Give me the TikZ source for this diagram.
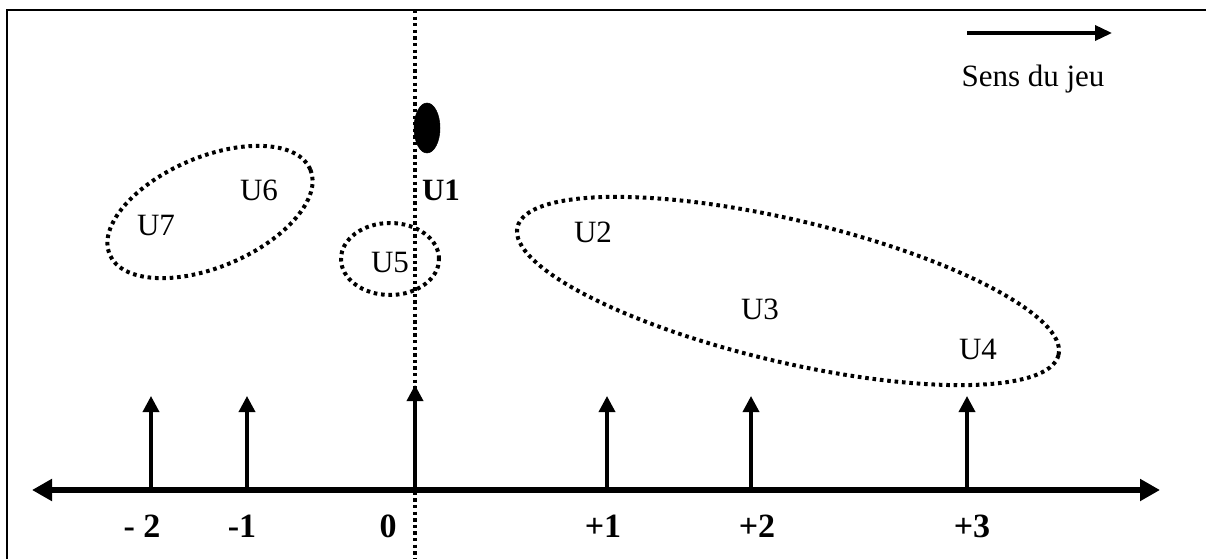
\documentclass[tikz,border=0pt]{standalone}
\usepackage{fontspec}
\setmainfont{Liberation Serif}
\usetikzlibrary{arrows.meta,shapes.geometric}
\begin{document}
\begin{tikzpicture}[x=1pt,y=-1pt,
  lbl/.style={font=\fontsize{31}{36}\selectfont, inner sep=0pt, anchor=base},
  blbl/.style={font=\fontsize{31}{36}\selectfont\bfseries, inner sep=0pt, anchor=base},
  num/.style={font=\fontsize{34}{40}\selectfont\bfseries, inner sep=0pt, anchor=base},
  grp/.style={draw, ellipse, inner sep=0pt, line width=4pt, dash pattern=on 3.6pt off 3.8pt},
  axisline/.style={line width=6pt, {Triangle[length=20pt,width=21pt]}-{Triangle[length=20pt,width=21pt]}},
  varrow/.style={line width=3.5pt, -{Triangle[length=16pt,width=16pt]}},
  sensarrow/.style={line width=3.5pt, -{Triangle[length=17pt,width=15pt]}},
  dotline/.style={line width=3.8pt, dash pattern=on 3.3pt off 3.3pt}
]
\useasboundingbox (0,0) rectangle (1206,559);
% frame (top and left edges)
\draw[line width=2pt] (7,559) -- (7,10) -- (1206,10);
% dotted vertical line through 0
\coordinate (dtop) at (415,10);
\coordinate (dbot) at (415,559);
\draw[dotline] (dtop) -- (dbot);
% direction of play
\coordinate (sA) at (967,33);
\coordinate (sB) at (1112,33);
\draw[sensarrow] (sA) -- (sB);
\node[lbl] (sens) at (1033,87) {Sens du jeu};
% ball / U1
\node[draw, fill=black, ellipse, inner sep=0pt, minimum width=26pt, minimum height=50pt, line width=0.5pt] (ball) at (427,128) {};
\node[blbl] (u1) at (441,200) {U1};
% groups
\node[grp, minimum width=218pt, minimum height=110pt, rotate=23] (g67) at (210,212) {};
\node[lbl] (u6) at (259,200) {U6};
\node[lbl] (u7) at (156,235) {U7};
\node[grp, minimum width=98pt, minimum height=72pt] (g5) at (390,259) {};
\node[lbl] (u5) at (390,272) {U5};
\node[grp, minimum width=556pt, minimum height=142pt, rotate=-13.3] (g234) at (788,291) {};
\node[lbl] (u2) at (593,242) {U2};
\node[lbl] (u3) at (760,319) {U3};
\node[lbl] (u4) at (978,359) {U4};
% axis
\coordinate (axL) at (32,490);
\coordinate (axR) at (1160,490);
\draw[axisline] (axL) -- (axR);
% ticks
\coordinate (bm2) at (151,490); \coordinate (tm2) at (151,396);
\coordinate (bm1) at (247,490); \coordinate (tm1) at (247,396);
\coordinate (b0) at (415,490);  \coordinate (t0) at (415,385);
\coordinate (bp1) at (607,490); \coordinate (tp1) at (607,396);
\coordinate (bp2) at (751,490); \coordinate (tp2) at (751,396);
\coordinate (bp3) at (967,490); \coordinate (tp3) at (967,396);
\foreach \p in {m2,m1,0,p1,p2,p3} { \draw[varrow] (b\p) -- (t\p); }
% labels
\node[num] (lm2) at (142,537) {- 2};
\node[num] (lm1) at (242,537) {-1};
\node[num] (l0) at (388,537) {0};
\node[num] (lp1) at (603,537) {+1};
\node[num] (lp2) at (757,537) {+2};
\node[num] (lp3) at (972,537) {+3};
\end{tikzpicture}
\end{document}
